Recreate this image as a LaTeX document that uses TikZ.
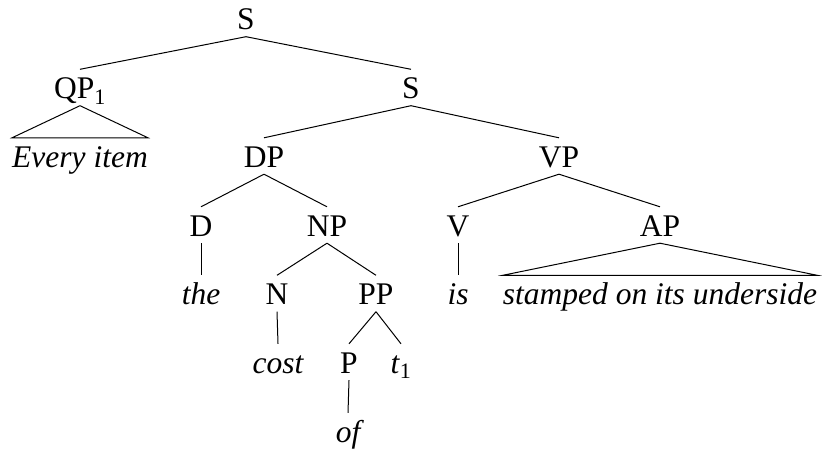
\documentclass[tikz,border=0pt]{standalone}
\usepackage{fontspec}
\setmainfont{Liberation Serif}
\begin{document}
\begin{tikzpicture}[x=1pt,y=-1pt,
  lab/.style={anchor=base,inner sep=0pt,text height=29pt,text depth=7pt,font=\fontsize{31.5}{36}\selectfont},
  edge/.style={draw=black,line width=1pt}]
\useasboundingbox (0,0) rectangle (822,452);
\node[lab] (s0) at (246,29.5) {S};
\node[lab] (qp) at (80,98.5) {QP\textsubscript{1}};
\node[lab] (s1) at (411,98.5) {S};
\node[lab] (ei) at (80,167) {\itshape Every item};
\node[lab] (dp) at (264,167) {DP};
\node[lab] (vp) at (559,167) {VP};
\node[lab] (d) at (201,236) {D};
\node[lab] (np) at (327,236) {NP};
\node[lab] (v) at (458,236) {V};
\node[lab] (ap) at (660,236) {AP};
\node[lab] (the) at (201,304.5) {\itshape the};
\node[lab] (n) at (277,304.5) {N};
\node[lab] (pp) at (376,304.5) {PP};
\node[lab] (is) at (458,304.5) {\itshape is};
\node[lab] (st) at (660,304.5) {\itshape stamped on its underside};
\node[lab] (cost) at (278,373) {\itshape cost};
\node[lab] (p) at (349,373) {P};
\node[lab] (t) at (401,373) {\textit{t}\textsubscript{1}};
\node[lab] (of) at (348,442) {\itshape of};
\draw[edge] (s0.south) -- (qp.north);
\draw[edge] (s0.south) -- (s1.north);
\draw[edge] (qp.south) -- (ei.north west) -- (ei.north east) -- cycle;
\draw[edge] (s1.south) -- (dp.north);
\draw[edge] (s1.south) -- (vp.north);
\draw[edge] (dp.south) -- (d.north);
\draw[edge] (dp.south) -- (np.north);
\draw[edge] (d.south) -- (the.north);
\draw[edge] (np.south) -- (n.north);
\draw[edge] (np.south) -- (pp.north);
\draw[edge] (n.south) -- (cost.north);
\draw[edge] (pp.south) -- (p.north);
\draw[edge] (pp.south) -- (t.north);
\draw[edge] (p.south) -- (of.north);
\draw[edge] (vp.south) -- (v.north);
\draw[edge] (vp.south) -- (ap.north);
\draw[edge] (v.south) -- (is.north);
\draw[edge] (ap.south) -- (st.north west) -- (st.north east) -- cycle;
\end{tikzpicture}
\end{document}
